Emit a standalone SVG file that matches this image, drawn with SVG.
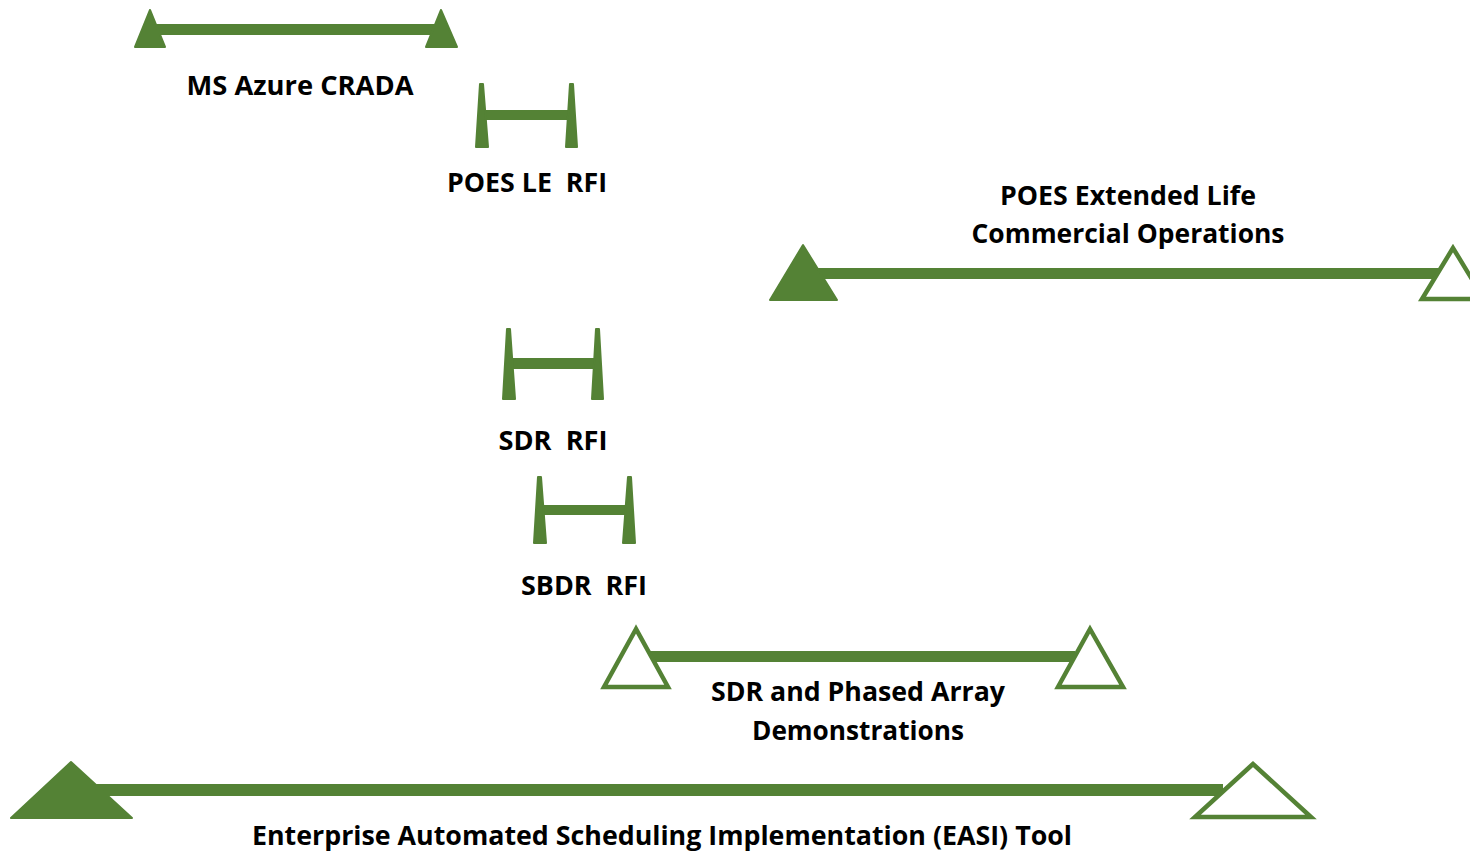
<svg xmlns="http://www.w3.org/2000/svg" width="1470" height="852" viewBox="0 0 1470 852">
<style>
.bar{fill:#548235}
.tri{fill:#548235;stroke:#548235;stroke-width:2;stroke-linejoin:round}
.otri{fill:#fff;stroke:#548235;stroke-width:4.5;stroke-linejoin:miter}
.post{fill:#548235;stroke:#548235;stroke-width:2;stroke-linejoin:round}
.lbl{font-family:"Open Sans","Liberation Sans",sans-serif;font-weight:bold;font-size:27px;fill:#000;text-anchor:middle;white-space:pre}
</style>
<rect width="1470" height="852" fill="#fff"/>
<g id="connectors"></g>
<g id="ms-azure-crada">
  <rect class="bar" x="150" y="24" width="291" height="11"/>
  <polygon class="tri" points="150,10 135,47 165,47"/>
  <polygon class="tri" points="441,10 426,47 457,47"/>
  <text class="lbl" x="300" y="95" textLength="227" lengthAdjust="spacingAndGlyphs">MS Azure CRADA</text>
</g>
<g id="poes-le-rfi">
  <rect class="bar" x="482" y="110" width="88" height="10"/>
  <polygon class="post" points="480,84 483,84 488,147 476,147"/>
  <polygon class="post" points="570,84 573,84 577,147 566,147"/>
  <text class="lbl" x="527" y="192" textLength="160" lengthAdjust="spacingAndGlyphs" xml:space="preserve">POES LE  RFI</text>
</g>
<g id="poes-extended-life">
  <text class="lbl" x="1128" y="205" textLength="256" lengthAdjust="spacingAndGlyphs">POES Extended Life</text>
  <text class="lbl" x="1128" y="243" textLength="313" lengthAdjust="spacingAndGlyphs">Commercial Operations</text>
  <rect class="bar" x="805" y="268" width="635" height="11"/>
  <polygon class="tri" points="803,245 770,300 837,300"/>
  <polygon class="otri" points="1453,248 1422,299 1484,299"/>
</g>
<g id="sdr-rfi">
  <rect class="bar" x="510" y="358" width="88" height="11"/>
  <polygon class="post" points="507,329 510,329 515,399 503,399"/>
  <polygon class="post" points="596,329 599,329 603,399 592,399"/>
  <text class="lbl" x="553" y="450" textLength="109" lengthAdjust="spacingAndGlyphs" xml:space="preserve">SDR  RFI</text>
</g>
<g id="sbdr-rfi">
  <rect class="bar" x="540" y="505" width="90" height="10"/>
  <polygon class="post" points="538,477 541,477 546,543 534,543"/>
  <polygon class="post" points="628,477 631,477 635,543 623,543"/>
  <text class="lbl" x="584" y="595" textLength="126" lengthAdjust="spacingAndGlyphs" xml:space="preserve">SBDR  RFI</text>
</g>
<g id="sdr-phased-array">
  <rect class="bar" x="650" y="651" width="425" height="11"/>
  <polygon class="otri" points="636,629 604,687 668,687"/>
  <polygon class="otri" points="1090,629 1058,687 1123,687"/>
  <text class="lbl" x="858" y="701" textLength="294" lengthAdjust="spacingAndGlyphs">SDR and Phased Array</text>
  <text class="lbl" x="858" y="740" textLength="212" lengthAdjust="spacingAndGlyphs">Demonstrations</text>
</g>
<g id="easi-tool">
  <rect class="bar" x="95" y="784" width="1128" height="12"/>
  <polygon class="tri" points="71,762 11,818 132,818"/>
  <polygon class="otri" points="1253,764 1195,817 1311,817"/>
  <text class="lbl" x="662" y="845" textLength="820" lengthAdjust="spacingAndGlyphs">Enterprise Automated Scheduling Implementation (EASI) Tool</text>
</g>
</svg>
